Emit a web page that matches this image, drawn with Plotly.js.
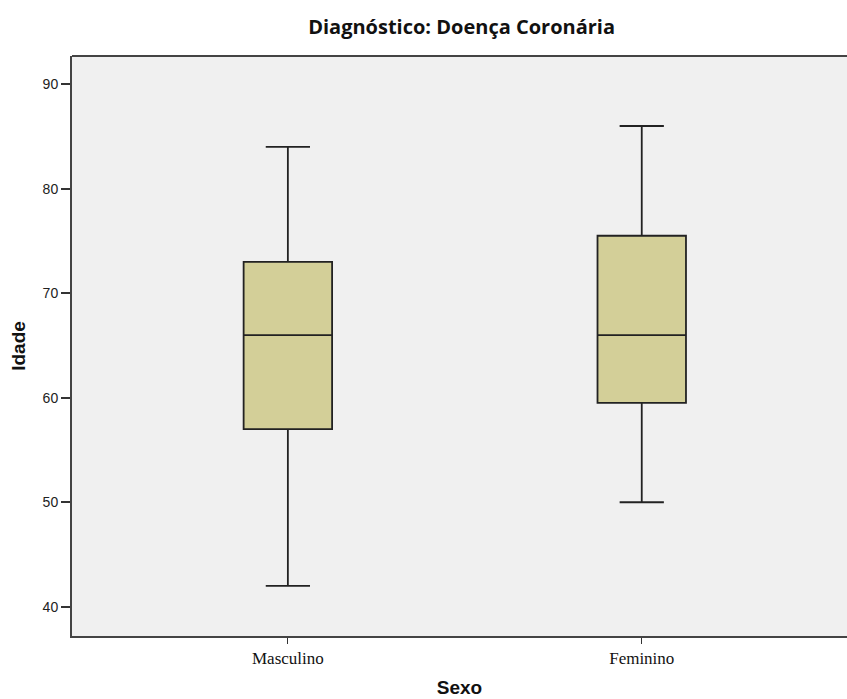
<!DOCTYPE html>
<html>
<head>
<meta charset="utf-8">
<script src="https://cdn.plot.ly/plotly-3.0.1.min.js"></script>
<style>html,body{margin:0;padding:0;background:#fff;}#chart{width:847px;height:699px;}</style>
</head>
<body>
<div id="chart"></div>
<script>
const categories = ['Masculino', 'Feminino'];
const minValues = [42, 50];
const q1Values = [57, 59.5];
const medianValues = [66, 66];
const q3Values = [73, 75.5];
const maxValues = [84, 86];
const yTicks = [40, 50, 60, 70, 80, 90];

const trace = {
  type: 'box',
  x: categories,
  lowerfence: minValues,
  q1: q1Values,
  median: medianValues,
  q3: q3Values,
  upperfence: maxValues,
  width: 0.25,
  whiskerwidth: 0.5,
  fillcolor: '#d3cf98',
  line: {color: '#222222', width: 1.8},
  boxpoints: false,
  hoverinfo: 'skip',
  showlegend: false
};

const layout = {
  width: 847,
  height: 699,
  margin: {l: 72, r: 0, t: 56, b: 63},
  paper_bgcolor: '#ffffff',
  plot_bgcolor: '#f0f0f0',
  title: {
    text: '<b>Diagnóstico: Doença Coronária</b>',
    font: {family: '"Open Sans", Lato, sans-serif', size: 20, color: '#111'},
    x: 0.545, xanchor: 'center', y: 0.962, yanchor: 'middle'
  },
  xaxis: {
    type: 'category',
    range: [-0.61, 1.58],
    showgrid: false,
    zeroline: false,
    showline: true,
    linecolor: '#444',
    linewidth: 2,
    ticks: 'outside',
    ticklen: 6,
    tickwidth: 1,
    tickcolor: '#333',
    tickfont: {family: '"Liberation Serif", "Times New Roman", serif', size: 17, color: '#111'},
    title: {text: '<b>Sexo</b>', font: {family: '"Liberation Sans", Arial, sans-serif', size: 19, color: '#111'}, standoff: 13}
  },
  yaxis: {
    range: [37.2, 92.7],
    tickvals: yTicks,
    showgrid: false,
    zeroline: false,
    showline: true,
    linecolor: '#444',
    linewidth: 2,
    mirror: false,
    ticks: 'outside',
    ticklen: 9,
    tickwidth: 2,
    tickcolor: '#333',
    tickfont: {family: '"Liberation Sans", Arial, sans-serif', size: 14, color: '#222'},
    title: {text: '<b>Idade</b>', font: {family: '"Liberation Sans", Arial, sans-serif', size: 19, color: '#111'}, standoff: 12}
  },
  shapes: [{
    type: 'line', xref: 'paper', yref: 'paper', x0: 0, x1: 1, y0: 1, y1: 1,
    line: {color: '#444', width: 2}
  }]
};

Plotly.newPlot('chart', [trace], layout, {displayModeBar: false, staticPlot: true});
</script>
</body>
</html>
